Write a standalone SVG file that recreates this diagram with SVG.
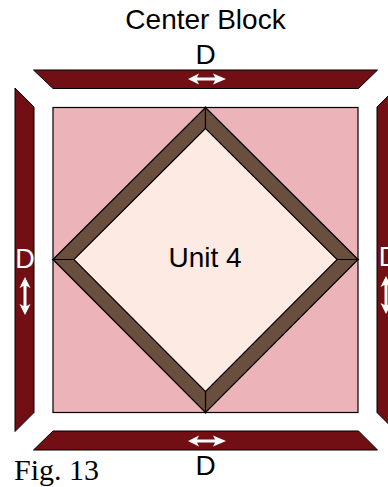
<svg xmlns="http://www.w3.org/2000/svg" width="388" height="487" viewBox="0 0 388 487">
  <style>
    .strip { fill: #710f14; stroke: #000; stroke-width: 1; }
    .square { fill: #ecb3b9; stroke: #000; stroke-width: 1.2; }
    .band { fill: #6b4f3e; stroke: #000; stroke-width: 1.2; stroke-linejoin: miter; }
    .core { fill: #fdebe3; }
    .arrow { fill: #fff; }
    .lbl { font-family: "Liberation Sans", Arial, sans-serif; font-size: 28px; fill: #000; text-anchor: middle; }
    .wlbl { font-family: "Liberation Sans", Arial, sans-serif; font-size: 27px; fill: #fff; text-anchor: middle; }
    .fig { font-family: "Liberation Serif", "Times New Roman", serif; font-size: 30px; fill: #000; }
  </style>
  <rect width="388" height="487" fill="#fff"/>
  <text class="lbl" x="205.5" y="29">Center Block</text>

  <g id="strip-top">
    <polygon class="strip" points="33.5,70 377.5,70 358.5,88.5 53,88.5"/>
    <polygon class="arrow" points="188,79 199,73.5 197,77.5 215,77.5 213,73.5 226,79 213,84.5 215,80.5 197,80.5 199,84.5"/>
    <text class="lbl" x="205.5" y="64">D</text>
  </g>
  <g id="strip-left">
    <polygon class="strip" points="15,88 34,107 34,412.5 15,431.5"/>
    <polygon class="arrow" points="25,277 30.5,288 26.5,286 26.5,306 30.5,304 25,315 19.5,304 23.5,306 23.5,286 19.5,288"/>
    <text class="wlbl" x="25" y="268">D</text>
  </g>
  <g id="strip-right">
    <polygon class="strip" points="396,88 377,107 377,412.5 396,431.5"/>
    <polygon class="arrow" points="386,276 391.5,287 387.5,285 387.5,305 391.5,303 386,314 380.5,303 384.5,305 384.5,285 380.5,287"/>
    <text class="wlbl" x="388.5" y="266">D</text>
  </g>
  <g id="strip-bottom">
    <polygon class="strip" points="53,431 358.5,431 377.5,450 33.5,450"/>
    <polygon class="arrow" points="188,441 199,435.5 197,439.5 215,439.5 213,435.5 226,441 213,446.5 215,442.5 197,442.5 199,446.5"/>
    <text class="lbl" x="205.5" y="475">D</text>
  </g>

  <g id="center-block">
    <rect class="square" x="53" y="107.5" width="305" height="305"/>
    <polygon class="core" points="205.5,128 337,259.5 205.5,391 74,259.5"/>
    <polygon class="band" points="53,259.5 205.5,107.5 205.5,128.5 74,259.5"/>
    <polygon class="band" points="205.5,107.5 358,259.5 337,259.5 205.5,128.5"/>
    <polygon class="band" points="358,259.5 205.5,412.5 205.5,391.5 337,259.5"/>
    <polygon class="band" points="205.5,412.5 53,259.5 74,259.5 205.5,391.5"/>
    <text class="lbl" x="205" y="267">Unit 4</text>
  </g>

  <text class="fig" x="14" y="480">Fig. 13</text>
</svg>
